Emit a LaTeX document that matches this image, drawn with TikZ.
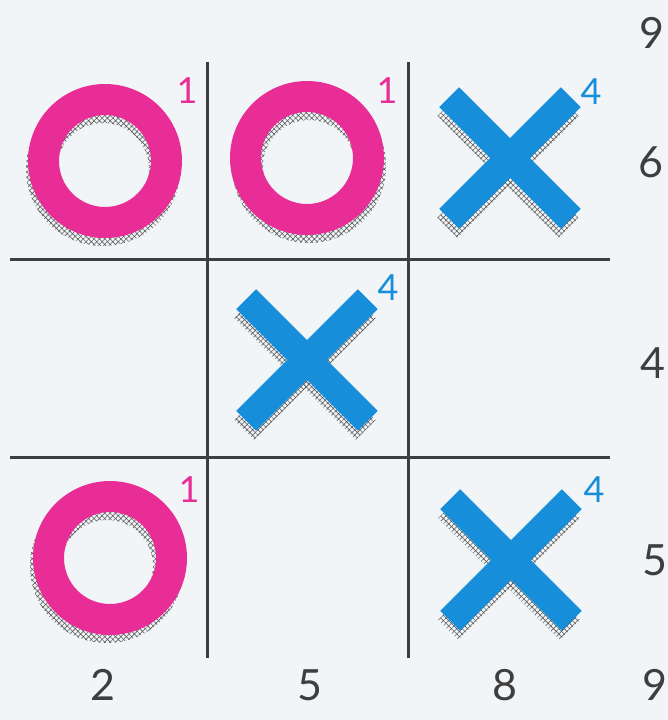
\documentclass[tikz,border=0pt]{standalone}
\usepackage{fontspec}
\setmainfont{Lato}
\usetikzlibrary{patterns.meta}
\definecolor{BoardInk}{RGB}{62,62,62}
\definecolor{PaperTint}{RGB}{241,245,248}
\definecolor{NoughtPink}{RGB}{232,45,150}
\definecolor{CrossBlue}{RGB}{22,142,218}
\definecolor{ShadowGray}{RGB}{95,95,95}

\begin{document}
\begin{tikzpicture}[
    x=1pt, y=-1pt,
    boardline/.style={line width=3pt, BoardInk},
    hatchshadow/.style={pattern={Hatch[angle=45, distance=3.8pt, line width=0.6pt]}, pattern color=ShadowGray},
    noughtring/.style={fill=NoughtPink, even odd rule},
    crossarm/.style={fill=CrossBlue},
    digit/.style={font=\fontsize{43}{43}\selectfont, text=BoardInk, inner sep=0pt},
    tag/.style={font=\fontsize{36}{36}\selectfont, inner sep=0pt},
]

% ---- paper ----
\fill[PaperTint] (0,0) rectangle (668,720);
\useasboundingbox (0,0) rectangle (668,720);

% ---- board ----
\coordinate (v1top) at (207,62);  \coordinate (v1bot) at (207,658);
\coordinate (v2top) at (408,62);  \coordinate (v2bot) at (408,658);
\coordinate (h1lft) at (10,259);  \coordinate (h1rgt) at (610,259);
\coordinate (h2lft) at (10,457);  \coordinate (h2rgt) at (610,457);
\draw[boardline] (v1top) -- (v1bot);
\draw[boardline] (v2top) -- (v2bot);
\draw[boardline] (h1lft) -- (h1rgt);
\draw[boardline] (h2lft) -- (h2rgt);

% ---- noughts (schatten zuerst) ----
\fill[hatchshadow, even odd rule] (103,169) circle (77) (103,169) circle (46);
\fill[noughtring] (105,161) circle (77) (105,161) circle (46);

\fill[hatchshadow, even odd rule] (309,166) circle (77) (309,166) circle (46);
\fill[noughtring] (307,158) circle (77) (307,158) circle (46);

\fill[hatchshadow, even odd rule] (107,566) circle (77) (107,566) circle (46);
\fill[noughtring] (110,558) circle (77) (110,558) circle (46);

% ---- crosses ----
\fill[hatchshadow, shift={(508,167)}, rotate=45] (-86,-14) rectangle (86,14);
\fill[hatchshadow, shift={(508,167)}, rotate=-45] (-86,-14) rectangle (86,14);
\fill[crossarm, shift={(510,158)}, rotate=45] (-86,-14) rectangle (86,14);
\fill[crossarm, shift={(510,158)}, rotate=-45] (-86,-14) rectangle (86,14);

\fill[hatchshadow, shift={(305,369)}, rotate=45] (-86,-14) rectangle (86,14);
\fill[hatchshadow, shift={(305,369)}, rotate=-45] (-86,-14) rectangle (86,14);
\fill[crossarm, shift={(307,360)}, rotate=45] (-86,-14) rectangle (86,14);
\fill[crossarm, shift={(307,360)}, rotate=-45] (-86,-14) rectangle (86,14);

\fill[hatchshadow, shift={(509,569)}, rotate=45] (-86,-14) rectangle (86,14);
\fill[hatchshadow, shift={(509,569)}, rotate=-45] (-86,-14) rectangle (86,14);
\fill[crossarm, shift={(511,560)}, rotate=45] (-86,-14) rectangle (86,14);
\fill[crossarm, shift={(511,560)}, rotate=-45] (-86,-14) rectangle (86,14);

% ---- kleine ziffern ----
\node[tag, text=NoughtPink] (tagA) at (187,91) {1};
\node[tag, text=NoughtPink] (tagB) at (387,91) {1};
\node[tag, text=NoughtPink] (tagG) at (189,490) {1};
\node[tag, text=CrossBlue] (tagC) at (591,92) {4};
\node[tag, text=CrossBlue] (tagE) at (388,288) {4};
\node[tag, text=CrossBlue] (tagI) at (594,490) {4};

% ---- randziffern ----
\node[digit] (rowtop) at (652,33) {9};
\node[digit] (row1) at (651,162) {6};
\node[digit] (row2) at (653,363) {4};
\node[digit] (row3) at (655,560) {5};
\node[digit] (col1) at (103,685) {2};
\node[digit] (col2) at (310,685) {5};
\node[digit] (col3) at (505,685) {8};
\node[digit] (coldiag) at (655,685) {9};

\end{tikzpicture}
\end{document}
